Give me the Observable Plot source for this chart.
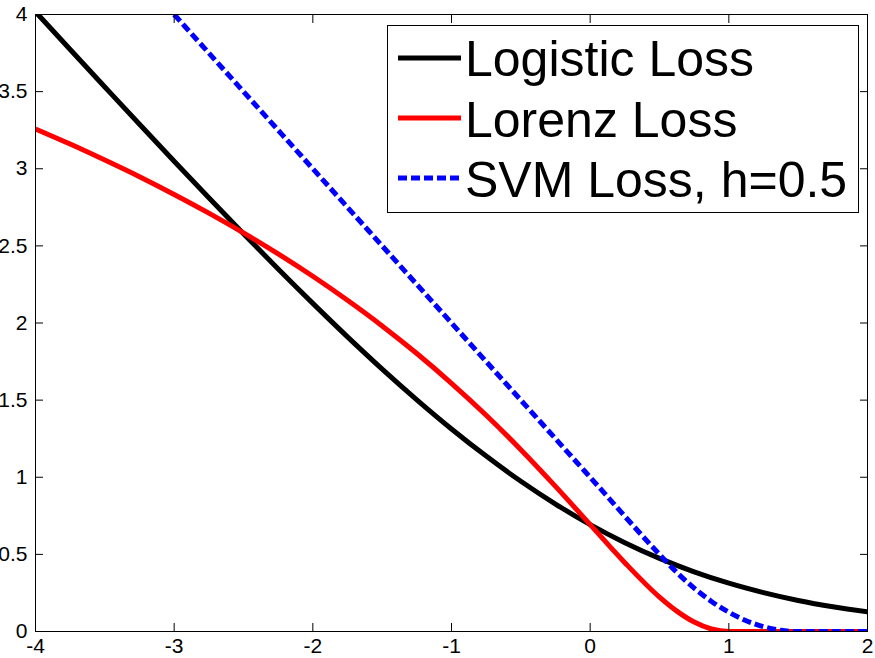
<!DOCTYPE html>
<html><head><meta charset="utf-8">
<script src="https://cdn.jsdelivr.net/npm/d3@7"></script>
<script src="https://cdn.jsdelivr.net/npm/@observablehq/plot@0.6"></script>
<style>
body{margin:0;background:#fff;}
#wrap{position:relative;width:875px;height:658px;background:#fff;}
</style></head><body><div id="wrap"></div>
<script>
const xLogistic = [-4,-3.75,-3.5,-3.25,-3,-2.75,-2.5,-2.25,-2,-1.75,-1.5,-1.25,-1,-0.75,-0.5,-0.25,0,0.25,0.5,0.75,1,1.25,1.5,1.75,2];
const yLogistic = [4.018,3.773,3.530,3.288,3.049,2.812,2.579,2.350,2.127,1.910,1.701,1.502,1.313,1.137,0.974,0.826,0.693,0.576,0.474,0.387,0.313,0.252,0.201,0.160,0.127];
const xLorenz = [-4,-3.75,-3.5,-3.25,-3,-2.75,-2.5,-2.25,-2,-1.75,-1.5,-1.25,-1,-0.75,-0.5,-0.25,0,0.25,0.5,0.625,0.75,0.875,1,1.5,2];
const yLorenz = [3.258,3.160,3.056,2.948,2.833,2.712,2.584,2.448,2.303,2.147,1.981,1.802,1.609,1.402,1.179,0.941,0.693,0.446,0.223,0.132,0.061,0.016,0,0,0];
const xSvm = [-3,-2,-1,0,0.5,0.625,0.75,0.875,1,1.125,1.25,1.375,1.5,2];
const ySvm = [4,3,2,1,0.5,0.383,0.281,0.195,0.125,0.070,0.031,0.008,0,0];
const seriesNames = ["Logistic Loss","Lorenz Loss","SVM Loss, h=0.5"];
const seriesColors = ["#000000","#ff0000","#0000ff"];
const seriesDash = [null,null,"9,4"];
const xTicks = [-4,-3,-2,-1,0,1,2];
const xTickLabels = ["-4","-3","-2","-1","0","1","2"];
const yTicks = [0,0.5,1,1.5,2,2.5,3,3.5,4];
const yTickLabels = ["0","0.5","1","1.5","2","2.5","3","3.5","4"];

const toRows = (xs, ys) => xs.map((x, i) => ({x, y: ys[i]}));
const series = [toRows(xLogistic, yLogistic), toRows(xLorenz, yLorenz), toRows(xSvm, ySvm)];

const font = "'Liberation Sans', Arial, Helvetica, sans-serif";
const chart = Plot.plot({
  width: 875, height: 658,
  marginLeft: 35, marginRight: 8, marginTop: 14, marginBottom: 27,
  style: {fontFamily: font, fontSize: "21px", color: "black", background: "white", overflow: "visible"},
  x: {domain: [-4, 2]},
  y: {domain: [0, 4]},
  marks: [
    ...series.map((rows, i) => Plot.line(rows, {
      x: "x", y: "y", stroke: seriesColors[i], strokeWidth: 5,
      strokeDasharray: seriesDash[i] || undefined, strokeLinecap: "butt",
      curve: "monotone-x", clip: true
    })),
    Plot.frame({stroke: "black", strokeWidth: 1}),
    Plot.axisX(xTicks, {anchor: "bottom", tickSize: 8, dy: -8, text: null, label: null}),
    Plot.axisX(xTicks, {anchor: "top", tickSize: 8, dy: 8, text: null, label: null}),
    Plot.axisX(xTicks, {anchor: "bottom", tickSize: 0, tickPadding: 7, label: null, fontSize: 21,
      tickFormat: d => xTickLabels[xTicks.indexOf(d)]}),
    Plot.axisY(yTicks, {anchor: "left", tickSize: 8, dx: 8, text: null, label: null}),
    Plot.axisY(yTicks, {anchor: "right", tickSize: 8, dx: -8, text: null, label: null}),
    Plot.axisY(yTicks, {anchor: "left", tickSize: 0, tickPadding: 8, label: null, fontSize: 21,
      tickFormat: d => yTickLabels[yTicks.indexOf(d)]})
  ]
});
const wrap = document.getElementById("wrap");
wrap.appendChild(chart);

// legend overlay (inside the axes, top right, as in the reference)
const leg = d3.create("svg")
  .attr("width", 875).attr("height", 658)
  .style("position", "absolute").style("left", "0px").style("top", "0px")
  .style("pointer-events", "none");
leg.append("rect").attr("x", 387.5).attr("y", 25.5).attr("width", 471).attr("height", 187)
  .attr("fill", "white").attr("stroke", "black").attr("stroke-width", 1);
const rowY = [58, 118, 178];
const baseY = [75.5, 137, 196.5];
seriesNames.forEach((name, i) => {
  leg.append("line").attr("x1", 398).attr("x2", 461).attr("y1", rowY[i]).attr("y2", rowY[i])
    .attr("stroke", seriesColors[i]).attr("stroke-width", 5)
    .attr("stroke-dasharray", seriesDash[i]);
  leg.append("text").attr("x", 465).attr("y", baseY[i])
    .attr("font-family", font).attr("font-size", 50).attr("fill", "black").text(name);
});
wrap.appendChild(leg.node());
</script>
</body></html>
